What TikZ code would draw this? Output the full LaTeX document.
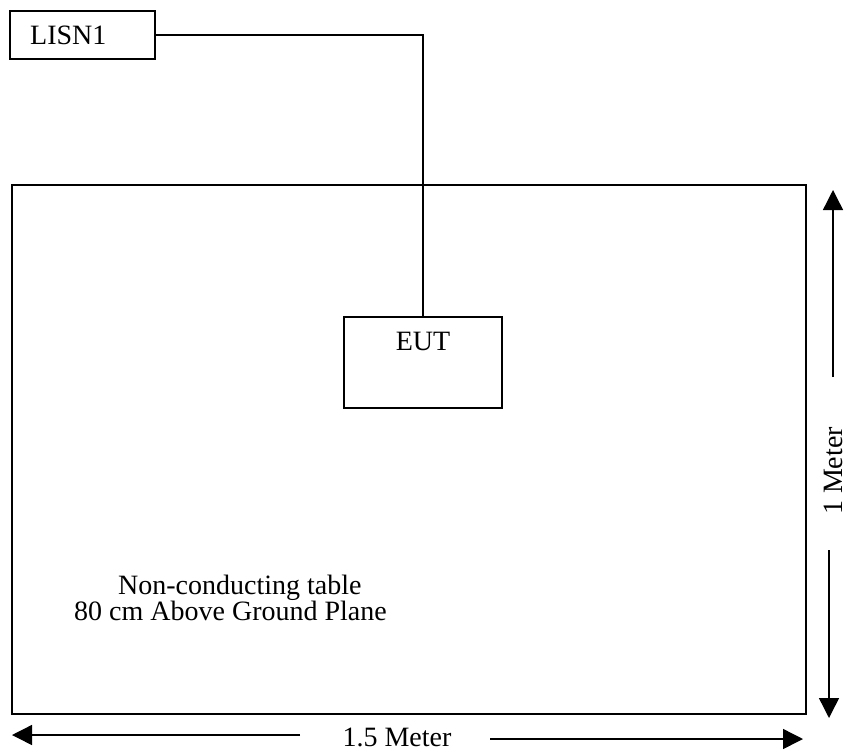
\documentclass[tikz,border=0pt]{standalone}
\usepackage{fontspec}
\setmainfont{Liberation Serif}
\usepackage{tikz}
\usetikzlibrary{arrows.meta}
\tikzstyle{box}=[draw,line width=1.6pt,inner sep=0pt]
\tikzstyle{wire}=[line width=1.4pt]
\tikzstyle{dimhead}=[>/.tip={Triangle[length=20pt,width=20pt]}]
\tikzstyle{dim}=[line width=1.4pt,dimhead,->]
\tikzstyle{lbl}=[inner sep=0pt,font=\fontsize{28}{32}\selectfont]

\begin{document}
\begin{tikzpicture}[x=1pt,y=-1pt]
	\useasboundingbox (0,0) rectangle (848,753);
	% table, boxes and the wire
	\node[box,minimum width=794pt,minimum height=529pt,anchor=north west] (table) at (11,184) {};
	\node[box,minimum width=145pt,minimum height=48pt,anchor=north west] (lisn) at (9,10) {};
	\node[box,minimum width=158pt,minimum height=91pt,anchor=north] (eut) at (423,316) {};
	\node[lbl,anchor=base west] (lisntext) at (30,44) {LISN1};
	\node[lbl,anchor=base] (euttext) at (423,350) {EUT};
	\draw[wire] (lisn.east) -| (eut.north);
	\node[lbl,anchor=base west] (tabletext) at (118,594) {Non-conducting table};
	\node[lbl,anchor=base west] (planetext) at (74,620) {80 cm Above Ground Plane};
	% dimensions
	\node[lbl,anchor=base] (widthlbl) at (397,746) {1.5 Meter};
	\coordinate (wl) at (300,735);
	\coordinate (wlend) at (12,735);
	\coordinate (wr) at (490,739);
	\coordinate (wrend) at (803,739);
	\draw[dim] (wl) -- (wlend);
	\draw[dim] (wr) -- (wrend);
	\node[lbl,rotate=90,anchor=base] (heightlbl) at (842,471) {1 Meter};
	\coordinate (hu) at (833,377);
	\coordinate (huend) at (833,190);
	\coordinate (hd) at (829,550);
	\coordinate (hdend) at (829,718);
	\draw[dim] (hu) -- (huend);
	\draw[dim] (hd) -- (hdend);
\end{tikzpicture}
\end{document}
